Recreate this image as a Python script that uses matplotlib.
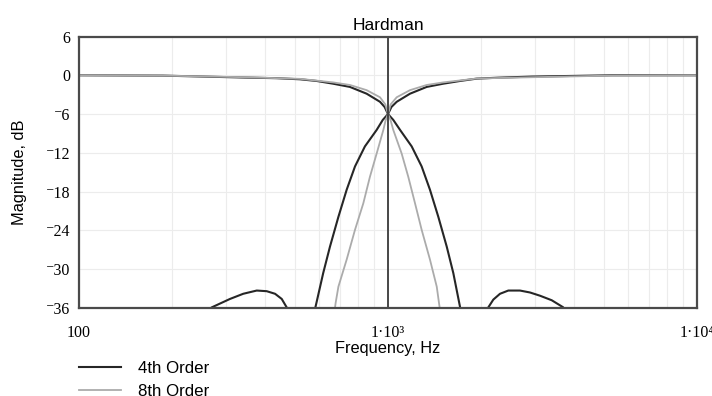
import matplotlib
matplotlib.use('Agg')
import numpy as np
from matplotlib import pyplot as plt
from matplotlib.ticker import FixedLocator, NullFormatter

# 4th order low pass (black)
lp4_f = [100, 187, 344, 436, 519, 588, 664, 753, 853, 942, 975, 1000,
         1040, 1094, 1193, 1285, 1367, 1455, 1549, 1627, 1710, 1730, 1950,
         2112, 2192, 2304, 2451, 2674, 2881, 3104, 3387, 3692, 3720]
lp4_db = [0.0, -0.05, -0.35, -0.45, -0.62, -0.88, -1.3, -1.8, -2.85, -4.1, -4.9, -6.0,
          -6.9, -8.45, -11.0, -14.1, -17.7, -21.9, -26.5, -30.6, -35.8, -37.0, -45.0,
          -35.9, -34.7, -33.8, -33.3, -33.3, -33.6, -34.1, -34.8, -35.9, -37.0]

# 4th order high pass (black)
hp4_f = [250, 269, 308, 340, 376, 405, 431, 453, 470, 520, 575,
         588, 617, 649, 691, 735, 782, 842, 919, 962, 1000,
         1026, 1067, 1178, 1334, 1510, 1710, 1936, 2275, 2918, 5297, 10000]
hp4_db = [-37.0, -35.9, -34.6, -33.8, -33.3, -33.4, -33.8, -34.6, -35.9, -45.0, -37.0,
          -35.0, -30.6, -26.5, -21.9, -17.7, -14.1, -11.0, -8.45, -6.9, -6.0,
          -4.9, -4.1, -2.85, -1.8, -1.3, -0.88, -0.52, -0.37, -0.2, 0.0, 0.0]

# 8th order low pass (grey)
lp8_f = [100, 187, 344, 519, 664, 753, 853, 942, 980, 1000,
         1020, 1040, 1107, 1163, 1223, 1285, 1367, 1438, 1466, 1490]
lp8_db = [0.0, -0.05, -0.3, -0.55, -1.1, -1.5, -2.3, -3.4, -4.5, -6.0,
          -7.0, -8.45, -12.1, -15.7, -19.8, -23.9, -28.5, -32.7, -35.6, -38.0]

# 8th order high pass (grey)
hp8_f = [665, 677, 691, 735, 782, 832, 874, 919, 966, 982, 1000,
         1020, 1067, 1178, 1334, 1510, 1936, 2918, 5297, 10000]
hp8_db = [-38.0, -35.2, -32.7, -28.5, -23.9, -19.8, -15.7, -12.1, -8.45, -7.0, -6.0,
          -4.5, -3.4, -2.3, -1.5, -1.1, -0.5, -0.3, -0.05, 0.0]

y_ticks = [6, 0, -6, -12, -18, -24, -30, -36]
x_ticks = [100, 1000, 10000]
x_labels = ['100', '1\u00b710\u00b3', '1\u00b710\u2074']

serif = ['Liberation Serif', 'DejaVu Serif']
sans = ['Liberation Sans', 'DejaVu Sans']

fig = plt.figure(figsize=(7.12, 3.96), dpi=100)
ax = fig.add_axes([79 / 712, 1 - 308 / 396, 618 / 712, 271.5 / 396])

black = '#262626'
grey = '#ababab'

ax.plot(lp4_f, lp4_db, color=black, lw=1.5, label='4th Order')
ax.plot(hp4_f, hp4_db, color=black, lw=1.5)
ax.plot(lp8_f, lp8_db, color=grey, lw=1.3, label='8th Order')
ax.plot(hp8_f, hp8_db, color=grey, lw=1.3)
ax.axvline(1000, color='#3a3a3a', lw=1.3)

ax.set_xscale('log')
ax.set_xlim(100, 10000)
ax.set_ylim(-36, 6)

ax.xaxis.set_major_locator(FixedLocator(x_ticks))
ax.xaxis.set_minor_locator(FixedLocator([m * d for d in (100, 1000) for m in range(2, 10)]))
ax.xaxis.set_minor_formatter(NullFormatter())
ax.set_xticklabels(x_labels, family=serif, fontsize=11.5)
ax.set_yticks(y_ticks)
ax.set_yticklabels([('\u207b' + str(-v)) if v < 0 else str(v) for v in y_ticks],
                   family=serif, fontsize=11.5)
ax.tick_params(which='both', length=0)
ax.tick_params(axis='x', pad=12)
ax.tick_params(axis='y', pad=6)

ax.grid(True, which='both', color='#ececec', lw=0.8)
ax.set_axisbelow(True)
for sp in ax.spines.values():
    sp.set_color('#4a4a4a')
    sp.set_linewidth(1.6)

ax.set_title('Hardman', family=sans, fontsize=12.5, pad=5)
ax.set_xlabel('Frequency, Hz', family=sans, fontsize=11.8, va='top')
ax.xaxis.set_label_coords(0.5, -0.12)
ax.set_ylabel('Magnitude, dB', family=sans, fontsize=11.8)
ax.yaxis.set_label_coords(-0.084, 0.5)

ax.legend(loc='upper left', bbox_to_anchor=(79 / 712, 1 - 361 / 396),
          bbox_transform=fig.transFigure, frameon=False, borderpad=0,
          borderaxespad=0, handlelength=2.5, handletextpad=1.0,
          labelspacing=0.45, prop={'family': sans, 'size': 12.2})

fig.savefig('out.png', dpi=100)
